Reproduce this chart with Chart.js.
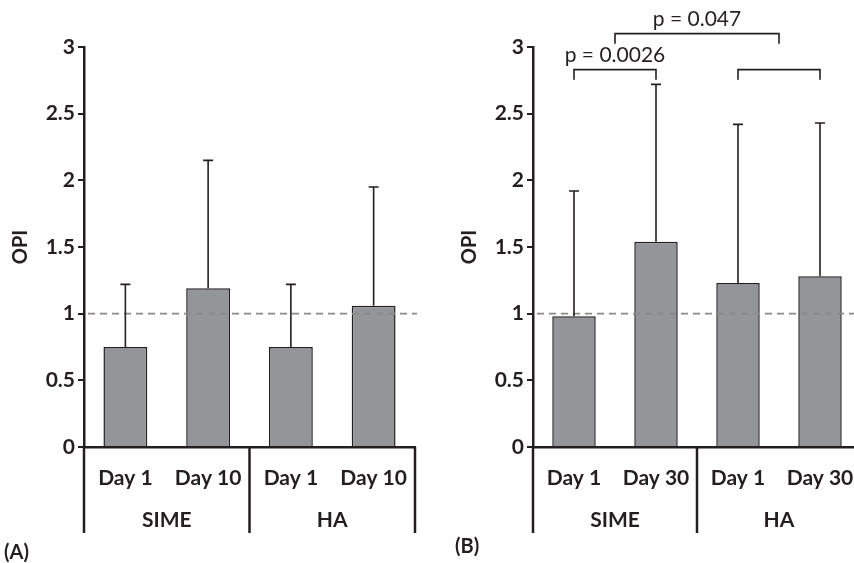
<!DOCTYPE html>
<html lang="en">
<head>
<meta charset="UTF-8">
<title>OPI by group and day</title>
<script src="https://cdn.jsdelivr.net/npm/chart.js"></script>
<style>
    body { margin: 0; width: 854px; height: 563px; overflow: hidden; background: #fff; position: relative; }
    .box { position: absolute; top: 0; width: 430px; height: 563px; }
    #boxA { left: 0; }
    #boxB { left: 449px; }
</style>
</head>
<body>
<div class="box" id="boxA"><canvas id="chartA"></canvas></div>
<div class="box" id="boxB"><canvas id="chartB"></canvas></div>
<script>
// data
const daysA = ['Day 1', 'Day 10', 'Day 1', 'Day 10'];
const daysB = ['Day 1', 'Day 30', 'Day 1', 'Day 30'];
const groups = ['SIME', 'HA'];
const meansA = [0.75, 1.19, 0.75, 1.06];
const sdA = [0.47, 0.96, 0.47, 0.89];
const meansB = [0.98, 1.54, 1.23, 1.28];
const sdB = [0.94, 1.18, 1.19, 1.15];
const refLevel = 1;
// brackets in panel B (category positions, level in OPI units)
const bracketFrom = [0, 0.5, 2];
const bracketTo = [1, 2.5, 3];
const bracketLevel = [2.83, 3.10, 2.83];
const bracketLabels = ['p = 0.0026', 'p = 0.047', ''];

const ink = '#231f20';
const barGrey = '#939598';
const fontFam = 'Lato, "Open Sans", sans-serif';

function panelPlugin(means, sds, panelLabel, labelPos, withBrackets) {
    return {
        id: 'panelDecor',
        afterDatasetsDraw(chart) {
            const { ctx, chartArea, scales: { x, y } } = chart;
            ctx.save();

            // dashed reference line at OPI = 1
            ctx.strokeStyle = '#8a8a8a';
            ctx.lineWidth = 1.6;
            ctx.setLineDash([7, 5]);
            const yr = y.getPixelForValue(refLevel);
            ctx.beginPath();
            ctx.moveTo(chartArea.left + 4, yr);
            ctx.lineTo(chartArea.right + 2, yr);
            ctx.stroke();
            ctx.setLineDash([]);

            // upper error bars
            ctx.strokeStyle = ink;
            ctx.lineWidth = 1.6;
            means.forEach((m, i) => {
                const px = x.getPixelForValue(i);
                const y0 = y.getPixelForValue(m);
                const y1 = y.getPixelForValue(m + sds[i]);
                ctx.beginPath();
                ctx.moveTo(px, y0);
                ctx.lineTo(px, y1);
                ctx.moveTo(px - 5, y1);
                ctx.lineTo(px + 5, y1);
                ctx.stroke();
            });

            // group separators and group names under the axis
            ctx.lineWidth = 2.5;
            const bottom = chartArea.bottom + 86;
            const bounds = [chartArea.left,
                (x.getPixelForValue(1) + x.getPixelForValue(2)) / 2,
                chartArea.right];
            bounds.forEach(bx => {
                ctx.beginPath();
                ctx.moveTo(bx, chartArea.bottom);
                ctx.lineTo(bx, bottom);
                ctx.stroke();
            });
            ctx.fillStyle = ink;
            ctx.font = 'bold 21px ' + fontFam;
            ctx.textAlign = 'center';
            ctx.textBaseline = 'middle';
            groups.forEach((g, k) => {
                ctx.fillText(g, (bounds[k] + bounds[k + 1]) / 2, chartArea.bottom + 73);
            });

            // panel letter
            ctx.textAlign = 'left';
            ctx.font = 'bold 20px ' + fontFam;
            ctx.fillText(panelLabel, labelPos[0], labelPos[1]);

            // significance brackets
            if (withBrackets) {
                ctx.lineWidth = 1.6;
                ctx.font = '21px ' + fontFam;
                ctx.textAlign = 'center';
                bracketLevel.forEach((lv, k) => {
                    const xa = x.getPixelForValue(bracketFrom[k]);
                    const xb = x.getPixelForValue(bracketTo[k]);
                    const yl = y.getPixelForValue(lv);
                    ctx.beginPath();
                    ctx.moveTo(xa, yl + 10);
                    ctx.lineTo(xa, yl);
                    ctx.lineTo(xb, yl);
                    ctx.lineTo(xb, yl + 10);
                    ctx.stroke();
                    if (bracketLabels[k]) {
                        ctx.fillText(bracketLabels[k], (xa + xb) / 2, yl - 14);
                    }
                });
            }
            ctx.restore();
        }
    };
}

function makeChart(id, days, means, sds, panelLabel, labelPos, withBrackets, padRight) {
    return new Chart(document.getElementById(id), {
        type: 'bar',
        data: {
            labels: days,
            datasets: [{
                data: means,
                backgroundColor: barGrey,
                borderColor: ink,
                borderWidth: 1.5,
                borderSkipped: 'bottom',
                barPercentage: 0.53,
                categoryPercentage: 1
            }]
        },
        options: {
            responsive: true,
            maintainAspectRatio: false,
            animation: false,
            layout: { padding: { top: 47, right: padRight, bottom: 0, left: 0 } },
            plugins: { legend: { display: false }, tooltip: { enabled: false } },
            scales: {
                x: {
                    grid: { display: false },
                    border: { display: true, color: ink, width: 2.5 },
                    ticks: { color: ink, padding: 11, maxRotation: 0,
                             font: { family: fontFam, size: 21, weight: 'bold' } },
                    afterFit(scale) { scale.height = 116; }
                },
                y: {
                    min: 0, max: 3,
                    grid: { drawOnChartArea: false, color: ink, lineWidth: 2, tickLength: 6 },
                    border: { display: true, color: ink, width: 2.5 },
                    ticks: { stepSize: 0.5, color: ink, padding: 3,
                             callback: v => String(v),
                             font: { family: fontFam, size: 21, weight: 'bold' } },
                    title: { display: true, text: 'OPI', color: ink, padding: { top: 9, bottom: 0 },
                             font: { family: fontFam, size: 20, weight: 'bold' } },
                    afterFit(scale) { scale.width = 84; }
                }
            }
        },
        plugins: [panelPlugin(means, sds, panelLabel, labelPos, withBrackets)]
    });
}

makeChart('chartA', daysA, meansA, sdA, '(A)', [4, 553], false, 15);
makeChart('chartB', daysB, meansB, sdB, '(B)', [6, 547], true, 18);
</script>
</body>
</html>
